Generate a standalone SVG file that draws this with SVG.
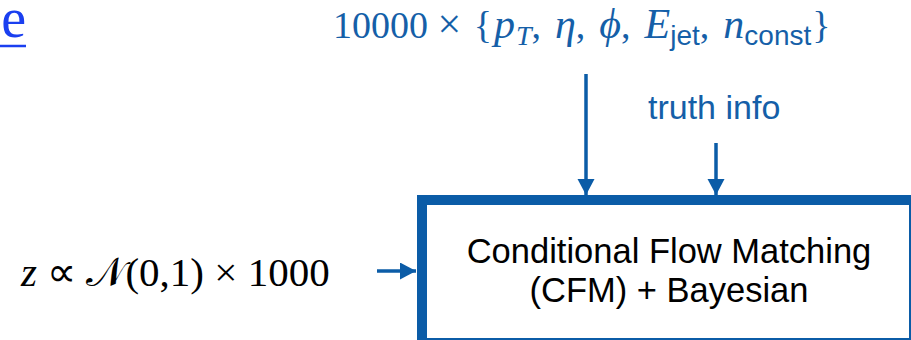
<svg xmlns="http://www.w3.org/2000/svg" width="911" height="340" viewBox="0 0 911 340">
  <style>
    .serif { font-family: "Liberation Serif", "Times New Roman", serif; }
    .sans { font-family: "Liberation Sans", Arial, sans-serif; }
    .it { font-style: italic; }
    .sym { font-style: italic; font-size: 42px; }
    .sub { font-size: 28px; }
    .blue { fill: #155fa8; }
    .ink { fill: #000000; }
    .conn { stroke: #0b5ca7; stroke-width: 3.5; fill: none; marker-end: url(#head); }
  </style>
  <defs>
    <marker id="head" markerUnits="userSpaceOnUse" markerWidth="18" markerHeight="18" refX="16" refY="8.5" orient="auto">
      <path d="M0,0 L16,8.5 L0,17 z" fill="#0b5ca7"/>
    </marker>
  </defs>

  <rect width="911" height="340" fill="#ffffff"/>

  <!-- trailing letter of a hyperlink -->
  <g id="link">
    <text x="26" y="37" class="serif" font-size="56" fill="#1a3ff0" text-anchor="end">e</text>
    <line x1="0" y1="46" x2="26" y2="46" stroke="#1a3ff0" stroke-width="2.5"/>
  </g>

  <!-- condition features -->
  <g id="features">
    <text x="333" y="38" class="serif blue" font-size="38">10000 <tspan font-size="42">×</tspan> <tspan dx="3">{</tspan><tspan class="sym" dx="2">p</tspan><tspan class="sym sub" dx="1" dy="7">T</tspan><tspan dy="-7">,</tspan><tspan class="sym" dx="14">η</tspan>,<tspan class="sym" dx="14">ϕ</tspan>,<tspan class="sym" dx="14">E</tspan><tspan class="sans sub" dy="7">jet</tspan><tspan dy="-7">,</tspan><tspan class="sym" dx="14">n</tspan><tspan class="sans sub" dy="7">const</tspan><tspan dy="-7" dx="1">}</tspan></text>
  </g>

  <!-- truth label -->
  <g id="truth">
    <text x="648" y="119" class="sans blue" font-size="34">truth info</text>
  </g>

  <!-- latent noise input -->
  <g id="noise">
    <text x="21" y="286" class="serif ink" font-size="41"><tspan class="it">z</tspan> ∝ <tspan>𝒩</tspan>(0,1) × 1000</text>
  </g>

  <!-- model block -->
  <g id="cfm">
    <rect x="422" y="200" width="492" height="143" fill="#ffffff" stroke="#0b5ca7" stroke-width="10"/>
    <text x="669" y="263" class="sans ink" font-size="34.5" text-anchor="middle">Conditional Flow Matching</text>
    <text x="669" y="302" class="sans ink" font-size="34.5" text-anchor="middle">(CFM) + Bayesian</text>
  </g>

  <!-- connectors -->
  <g id="connectors">
    <line class="conn" x1="586" y1="74" x2="586" y2="195"/>
    <line class="conn" x1="716" y1="143" x2="716" y2="195"/>
    <line class="conn" x1="377" y1="271" x2="416" y2="271"/>
  </g>
</svg>
